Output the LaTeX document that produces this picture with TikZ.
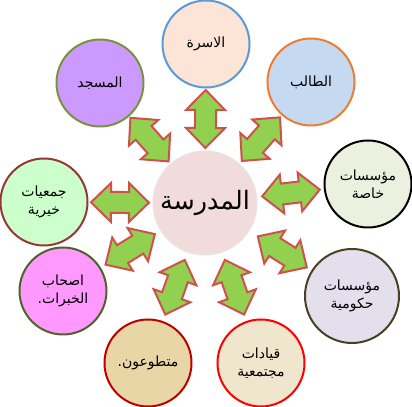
\documentclass[tikz,border=0pt]{standalone}
\usepackage{fontspec}
\newfontfamily\arabicfont[Script=Arabic]{DejaVu Sans}
\TeXXeTstate=1
\usetikzlibrary{calc}
\definecolor{arrfill}{HTML}{92D050}
\definecolor{arrdraw}{HTML}{D0504D}
\definecolor{cfill}{HTML}{F2DCDB}
\definecolor{fA}{HTML}{FCE4D6}\definecolor{dA}{HTML}{5B9BD5}
\definecolor{fB}{HTML}{C5D9F1}\definecolor{dB}{HTML}{ED7D31}
\definecolor{fC}{HTML}{EBF1DE}\definecolor{dC}{HTML}{000000}
\definecolor{fD}{HTML}{E4DFEC}\definecolor{dD}{HTML}{4A4125}
\definecolor{fE}{HTML}{F0E6CE}\definecolor{dE}{HTML}{FF0000}
\definecolor{fF}{HTML}{E8D6A6}\definecolor{dF}{HTML}{C00000}
\definecolor{fG}{HTML}{FF99FF}\definecolor{dG}{HTML}{4F6228}
\definecolor{fH}{HTML}{CCFFCC}\definecolor{dH}{HTML}{953735}
\definecolor{fI}{HTML}{CC99FF}\definecolor{dI}{HTML}{77933C}
\begin{document}
\begin{tikzpicture}[x=0.75pt,y=0.75pt,
  outer/.style={circle, minimum size=65.25pt, inner sep=0pt, line width=1.5pt,
    font=\arabicfont\fontsize{10.5}{13.5}\selectfont, align=center},
  centre/.style={circle, minimum size=78pt, inner sep=0pt, fill=cfill, draw=gray!20, line width=0.8pt,
    font=\arabicfont\fontsize{19}{22}\selectfont},
  arrowst/.style={fill=arrfill, draw=arrdraw, line width=1.5pt, line join=miter},
  pics/dblarrow/.style={code={\draw[arrowst] (-29,0) -- (-9,19.5) -- (-9,10.5) -- (9,10.5) -- (9,19.5) -- (29,0) -- (9,-19.5) -- (9,-10.5) -- (-9,-10.5) -- (-9,-19.5) -- cycle;}}
]
\useasboundingbox (0,0) rectangle (412,407);
\newcommand\linkarrow[2]{%
  \path let \p1=($(#2)-(#1)$), \n1={atan2(\y1,\x1)}, \n2={veclen(\x1,\y1)} in
    ($(#1)!{\n2*0.5pt+3.375pt}!(#2)$) pic[rotate=\n1] {dblarrow};}

\node[centre] (c) at (205,204) {\beginR المدرسة\endR};

\node[outer, fill=fA, draw=dA] (o1) at (206,363) {\beginR الاسرة\endR};
\node[outer, fill=fB, draw=dB] (o2) at (311,325) {\beginR الطالب\endR};
\node[outer, fill=fC, draw=dC] (o3) at (368,223) {\beginR مؤسسات\endR\\\beginR خاصة\endR};
\node[outer, minimum size=70.5pt, fill=fD, draw=dD] (o4) at (352,111) {\beginR مؤسسات\endR\\\beginR حكومية\endR};
\node[outer, fill=fE, draw=dE] (o5) at (261,44) {\beginR قيادات\endR\\\beginR مجتمعية\endR};
\node[outer, fill=fF, draw=dF] (o6) at (148,44) {\beginR متطوعون.\endR};
\node[outer, fill=fG, draw=dG] (o7) at (63,116) {\beginR اصحاب\endR\\\beginR الخبرات.\endR};
\node[outer, fill=fH, draw=dH] (o8) at (44,205) {\beginR جمعيات\endR\\\beginR خيرية\endR};
\node[outer, fill=fI, draw=dI] (o9) at (100,324) {\beginR المسجد\endR};

\foreach \o in {o1,o2,o3,o4,o5,o6,o7,o8,o9}{\linkarrow{c}{\o}}
\end{tikzpicture}
\end{document}
